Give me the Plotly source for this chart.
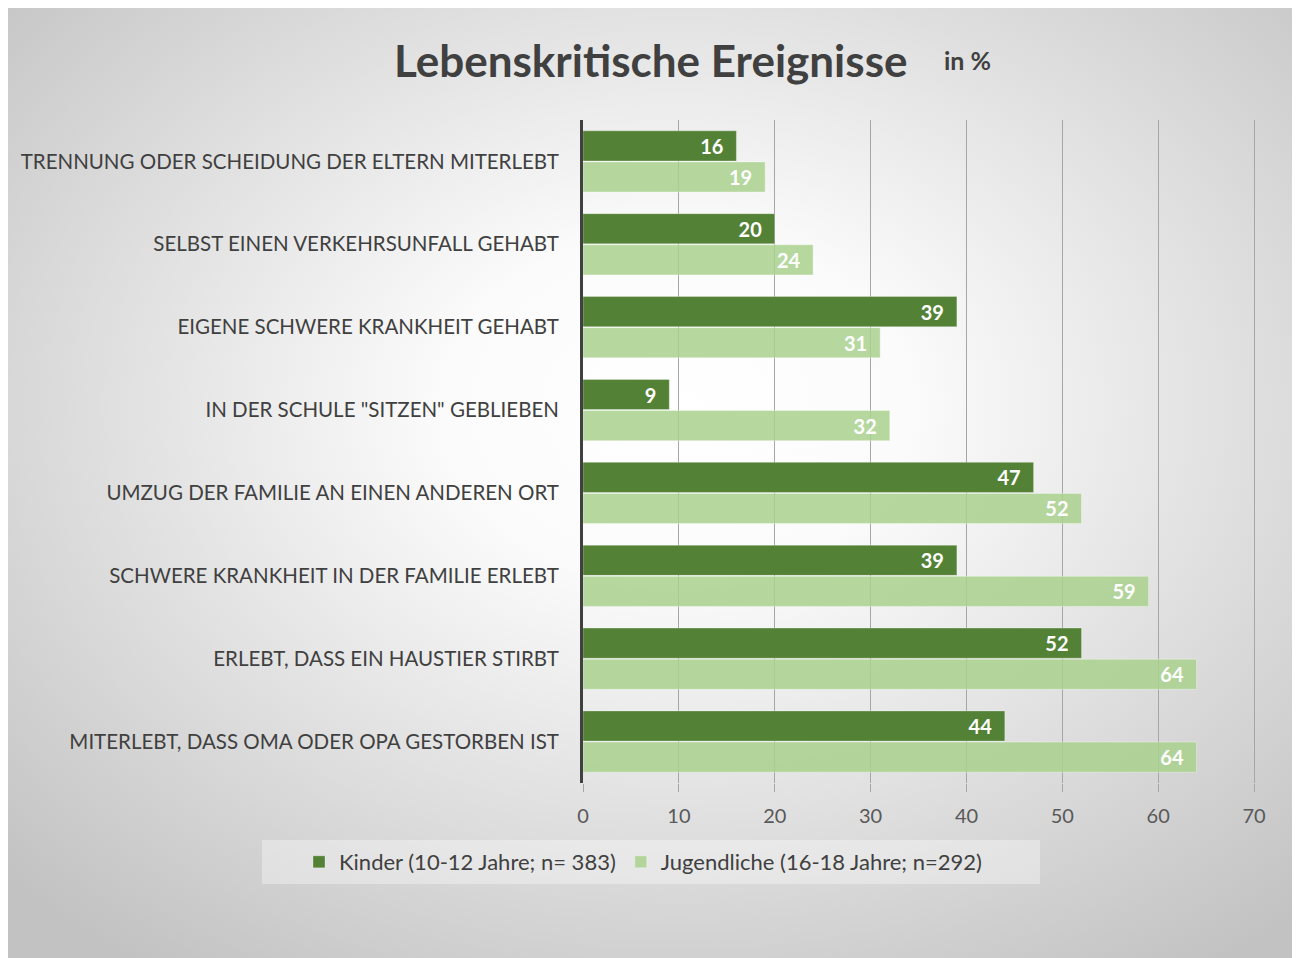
import base64
import plotly.graph_objects as go

categories = [
    "TRENNUNG ODER SCHEIDUNG DER ELTERN MITERLEBT",
    "SELBST EINEN VERKEHRSUNFALL GEHABT",
    "EIGENE SCHWERE KRANKHEIT GEHABT",
    "IN DER SCHULE \"SITZEN\" GEBLIEBEN",
    "UMZUG DER FAMILIE AN EINEN ANDEREN ORT",
    "SCHWERE KRANKHEIT IN DER FAMILIE ERLEBT",
    "ERLEBT, DASS EIN HAUSTIER STIRBT",
    "MITERLEBT, DASS OMA ODER OPA GESTORBEN IST",
]
kinder = [16, 20, 39, 9, 47, 39, 52, 44]
jugendliche = [19, 24, 31, 32, 52, 59, 64, 64]
series_names = ["Kinder (10-12 Jahre; n= 383)", "Jugendliche (16-18 Jahre; n=292)"]
x_ticks = [0, 10, 20, 30, 40, 50, 60, 70]

FONT = "Lato"
W, H = 1300, 958
OFF = 8  # browser body margin
XMAX = 70.2
L, T, B = 583 - OFF, 120 - OFF, 783 - OFF
R = L + round((1254 - 583) * XMAX / 70)
pw, ph = R - L, B - T

def px_x(p):
    return (p - OFF - L) / pw

def px_y(p):
    return (B - (p - OFF)) / ph

svg = (
    "<svg xmlns='http://www.w3.org/2000/svg' width='1288' height='950' preserveAspectRatio='none'>"
    "<defs><radialGradient id='g' cx='0.52' cy='0.42' r='0.72'>"
    "<stop offset='0' stop-color='#ffffff'/>"
    "<stop offset='0.25' stop-color='#fbfbfb'/>"
    "<stop offset='1' stop-color='#c2c2c2'/>"
    "</radialGradient></defs>"
    "<rect x='0' y='0' width='1288' height='950' fill='url(#g)'/></svg>"
)
bg_uri = "data:image/svg+xml;base64," + base64.b64encode(svg.encode()).decode()

fig = go.Figure()
fig.add_trace(go.Bar(
    y=categories, x=kinder, name=series_names[0], orientation="h", legendgroup="a",
    marker=dict(color="#538135", line=dict(color="rgba(255,255,255,0.3)", width=1)),
    texttemplate="%{x}\u2002", textposition="inside", insidetextanchor="end", textangle=0,
    textfont=dict(family=FONT, size=20, color="white", weight="bold"),
))
fig.add_trace(go.Bar(
    y=categories, x=jugendliche, name=series_names[1], orientation="h", legendgroup="b",
    marker=dict(color="rgba(169,209,142,0.85)", line=dict(color="rgba(255,255,255,0.35)", width=1)),
    texttemplate="%{x}\u2002", textposition="inside", insidetextanchor="end", textangle=0,
    textfont=dict(family=FONT, size=20, color="white", weight="bold"),
))

fig.update_layout(
    width=W, height=H,
    margin=dict(l=L, r=W - R, t=T, b=H - B, pad=0, autoexpand=False),
    paper_bgcolor="white", plot_bgcolor="rgba(0,0,0,0)",
    barmode="group", bargap=0.25, bargroupgap=0.03,
    font=dict(family=FONT, color="#404040"),
    showlegend=True,
    legend=dict(orientation="h", x=px_x(299), xanchor="left", y=px_y(862), yanchor="middle",
                bgcolor="rgba(0,0,0,0)", font=dict(family=FONT, size=22, color="#404040"),
                traceorder="grouped", tracegroupgap=23, itemwidth=30),
    xaxis=dict(range=[0, XMAX], tickvals=x_ticks, showgrid=True, gridcolor="#a6a6a6", gridwidth=1,
               zeroline=False, ticks="outside", ticklen=8, tickcolor="#a6a6a6",
               tickfont=dict(family=FONT, size=20, color="#595959"), ticklabelstandoff=7),
    yaxis=dict(autorange="reversed", showline=True, linewidth=3, linecolor="#404040",
               ticks="", tickfont=dict(family=FONT, size=20.5, color="#404040"), ticklabelstandoff=17),
    images=[dict(source=bg_uri, xref="paper", yref="paper",
                 x=px_x(7), y=px_y(8), sizex=1288 / pw, sizey=950 / ph,
                 xanchor="left", yanchor="top", sizing="stretch", layer="below")],
    shapes=[dict(type="rect", xref="paper", yref="paper",
                 x0=px_x(262), x1=px_x(1040), y0=px_y(884), y1=px_y(840),
                 fillcolor="rgba(255,255,255,0.35)", line=dict(width=0), layer="below")],
    annotations=[
        dict(text="<b>Lebenskritische Ereignisse</b>", xref="paper", yref="paper",
             x=px_x(650), y=px_y(60), xanchor="center", yanchor="middle", showarrow=False,
             font=dict(family=FONT, size=44, color="#404040")),
        dict(text="<b>in %</b>", xref="paper", yref="paper",
             x=px_x(942), y=px_y(60), xanchor="left", yanchor="middle", showarrow=False,
             font=dict(family=FONT, size=25, color="#404040")),
    ],
)

fig.write_html("out.html")
